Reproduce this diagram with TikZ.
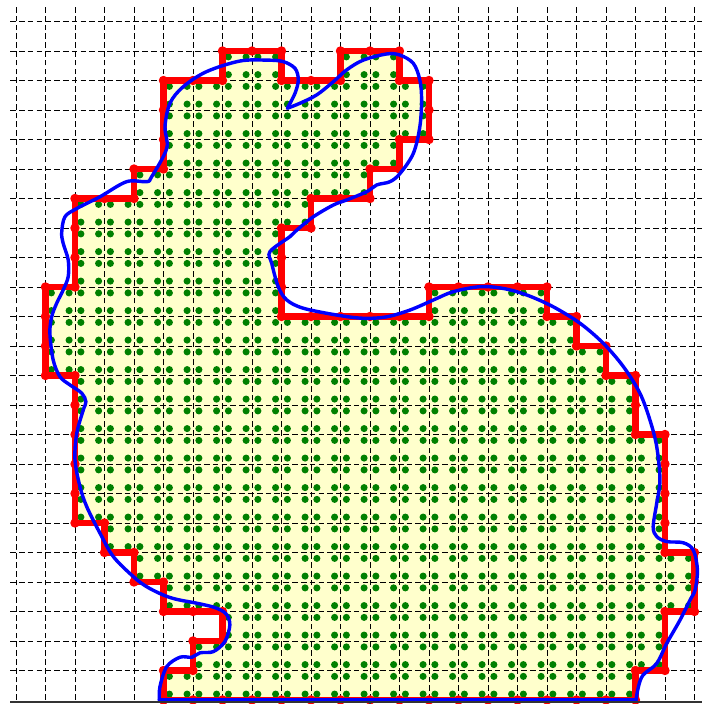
\documentclass[tikz,border=0pt]{standalone}
\usepackage{xcolor}
\usepackage{tikz}
\usetikzlibrary{decorations.markings}

\definecolor{cellyellow}{RGB}{255,255,204}
\definecolor{dotgreen}{RGB}{0,128,0}

% staircase outline made of whole grid cells
\newcommand\stairs{(5,0) -- (5,1) -- (6,1) -- (6,2) -- (7,2) -- (7,3) -- (5,3) -- (5,4) -- (4,4) -- (4,5) -- (3,5) -- (3,6) -- (2,6) -- (2,11) -- (1,11) -- (1,14) -- (2,14) -- (2,17) -- (4,17) -- (4,18) -- (5,18) -- (5,21) -- (7,21) -- (7,22) -- (9,22) -- (9,21) -- (11,21) -- (11,22) -- (13,22) -- (13,21) -- (14,21) -- (14,19) -- (13,19) -- (13,18) -- (12,18) -- (12,17) -- (10,17) -- (10,16) -- (9,16) -- (9,13) -- (14,13) -- (14,14) -- (18,14) -- (18,13) -- (19,13) -- (19,12) -- (20,12) -- (20,11) -- (21,11) -- (21,9) -- (22,9) -- (22,5) -- (23,5) -- (23,3) -- (22,3) -- (22,1) -- (21,1) -- (21,0) -- cycle}

\begin{document}
\begin{tikzpicture}[x=1cm,y=1cm,
  gridline/.style={black,line width=0.9pt,dash pattern=on 5.5pt off 3pt},
  cellfill/.style={fill=cellyellow},
  samplept/.style={fill=dotgreen},
  stairline/.style={draw=red,line width=6pt,line join=miter,
    postaction={decorate,decoration={markings,
      mark=between positions 0 and 1 step 1cm with {\fill[red] (0,0) circle (0.16);}}}},
  curve/.style={draw=blue,line width=3.3pt,line cap=round,line join=round},
  axisline/.style={draw=black!80,line width=1.8pt}]
\useasboundingbox (-0.542,-0.136) rectangle (23.254,23.729);

\fill[cellfill] \stairs;

% dashed grid
\foreach \i in {0,...,23}
  \draw[gridline] (\i,0) -- (\i,23.56);
\foreach \j in {1,...,23}
  \draw[gridline] (-0.2,\j) -- (23.254,\j);

% four sample points per cell, kept inside the outline
\begin{scope}
  \clip \stairs;
  \foreach \i in {0,...,22}
    \foreach \j in {0,...,22} {
      \fill[samplept] (\i+0.2,\j+0.2) circle (0.12);
      \fill[samplept] (\i+0.8,\j+0.2) circle (0.12);
      \fill[samplept] (\i+0.2,\j+0.8) circle (0.12);
      \fill[samplept] (\i+0.8,\j+0.8) circle (0.12);
    }
\end{scope}

\draw[stairline] \stairs;

% the smooth boundary
\draw[curve] plot[smooth,tension=0.55] coordinates {(4.86,0) (4.88,0.45) (5.11,1.13) (5.56,1.45) (5.96,1.45) (6.24,1.60) (6.69,1.64) (7.08,1.98) (7.25,2.54) (7.12,2.92) (6.75,3.13) (6.13,3.28) (5.45,3.41) (4.99,3.56) (4.43,3.84) (3.98,4.18) (3.30,4.86) (2.85,5.65) (2.40,6.55) (2.17,7.23) (2.0,8.14) (2.06,9.04) (2.28,9.83) (2.37,10.11) (2.23,10.40) (1.83,10.68) (1.49,10.96) (1.26,11.53) (1.15,12.43) (1.21,12.99) (1.38,13.45) (1.60,13.90) (1.77,14.35) (1.77,14.92) (1.60,15.48) (1.55,15.85) (1.66,16.38) (2.06,16.66) (2.85,17.06) (3.75,17.57) (4.43,17.57) (4.60,17.74) (5.11,18.70) (5.05,19.43) (5.22,20.23) (5.67,20.79) (6.46,21.30) (7.59,21.66) (8.50,21.69) (9.06,21.64) (9.46,21.41) (9.57,21.02) (9.46,20.57) (9.20,20.06)};
\draw[curve] plot[smooth,tension=0.55] coordinates {(9.20,20.06) (9.63,20.23) (10.19,20.51) (10.76,20.96) (11.21,21.36) (11.77,21.69) (12.57,21.90) (13.02,21.86) (13.47,21.58) (13.69,21.02) (13.75,20.34) (13.69,19.43) (13.47,18.53) (13.02,17.85) (12.68,17.57) (12.23,17.46) (11.89,17.23) (11.21,16.95) (10.76,16.78) (10.08,16.38) (9.52,15.93) (9.29,15.71) (8.61,15.20) (8.67,14.80) (8.89,14.01) (9.18,13.56) (9.74,13.28) (10.87,13.05) (11.77,12.94) (12.57,12.99) (13.36,13.22) (14.15,13.56) (14.82,13.84) (15.73,14.01) (16.52,13.95) (17.31,13.73) (18.21,13.33) (19.12,12.77) (19.91,12.09) (20.59,11.30) (21.15,10.40) (21.49,9.49) (21.72,8.59) (21.83,7.46) (21.72,6.67) (21.60,5.87) (21.72,5.54) (22.06,5.37) (22.62,5.33) (22.96,5.08) (23.10,4.41) (23.02,3.73) (22.85,3.39) (22.51,2.71) (22.06,1.92) (21.72,1.24) (21.26,0.85) (21.10,0.45) (21.02,0)};
\draw[curve] (4.86,0) -- (21.02,0);

% axis along the bottom
\draw[axisline] (-0.2,-0.06) -- (23.254,-0.06);
\draw[axisline] (12,-0.06) -- (12,-0.136);
\end{tikzpicture}
\end{document}
